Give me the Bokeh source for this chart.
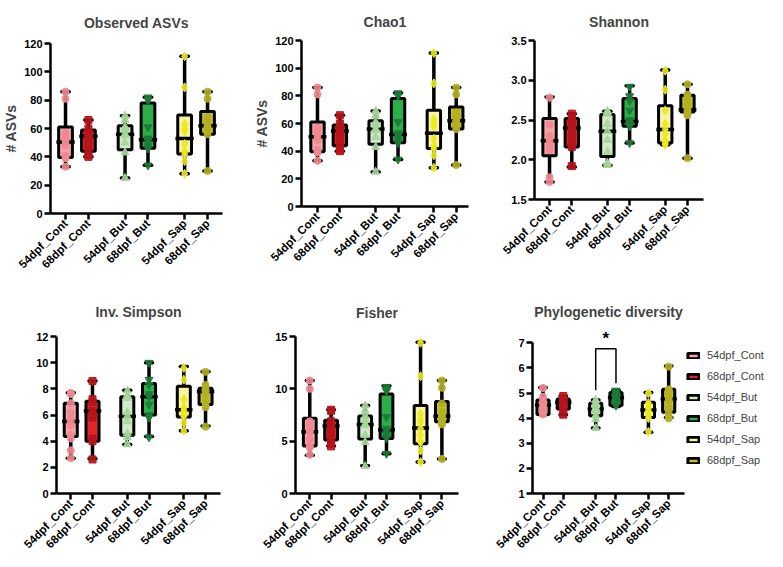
import math
from bokeh.plotting import figure
from bokeh.models import (FixedTicker, Legend, LegendItem, Label, Range1d,
                          PrintfTickFormatter, ColumnDataSource)
from bokeh.layouts import row, column
from bokeh.embed import file_html
from bokeh.resources import INLINE

# ---------------- data ----------------
GROUPS = ["54dpf_Cont", "68dpf_Cont", "54dpf_But", "68dpf_But", "54dpf_Sap", "68dpf_Sap"]

# box statistics per group: (min, q1, median, q3, max)
observed_box = [(33, 39.5, 50.5, 61, 86), (40, 44, 54.5, 59, 66), (25, 45, 56, 62, 69),
                (34, 46, 52, 78, 82), (28, 42, 53, 69.5, 111), (30, 56, 62, 72, 86)]
observed_pts = [[86, 81, 57, 55, 53, 51, 48, 41, 40, 39, 33],
                [66, 60, 57, 55, 54, 52, 49, 45, 41, 40],
                [69, 66, 61, 59, 56, 55, 50, 43, 25],
                [82, 80, 61, 53, 52, 51, 48, 46, 34],
                [111, 89, 63, 60, 58, 49, 44, 42, 37, 28],
                [86, 81, 68, 66, 64, 62, 61, 58, 56, 30]]

chao1_box = [(33, 39.5, 50.5, 61, 86), (40, 44, 54.5, 59, 66), (25, 45, 56, 62, 69),
             (34, 46, 52, 78, 82), (28, 42, 53, 69.5, 111), (30, 56, 62, 72, 86)]
chao1_pts = [[86, 81, 57, 55, 53, 51, 48, 41, 40, 39, 33],
             [66, 60, 57, 55, 54, 52, 49, 45, 41, 40],
             [69, 66, 61, 59, 56, 55, 50, 43, 25],
             [82, 80, 61, 53, 52, 51, 48, 46, 34],
             [111, 89, 63, 60, 58, 49, 44, 42, 37, 28],
             [86, 81, 68, 66, 64, 62, 61, 58, 56, 30]]

shannon_box = [(1.72, 2.05, 2.24, 2.52, 2.79), (1.91, 2.16, 2.40, 2.52, 2.58),
               (1.93, 2.04, 2.36, 2.57, 2.61), (2.21, 2.42, 2.48, 2.77, 2.93),
               (2.19, 2.21, 2.38, 2.68, 3.13), (2.02, 2.60, 2.63, 2.81, 2.95)]
shannon_pts = [[2.78, 2.44, 2.30, 2.27, 2.24, 2.18, 2.12, 1.78, 1.72],
               [2.58, 2.52, 2.50, 2.46, 2.40, 2.36, 2.30, 2.20, 2.16, 1.92],
               [2.61, 2.60, 2.58, 2.45, 2.36, 2.25, 2.10, 1.96, 1.93],
               [2.92, 2.80, 2.74, 2.62, 2.50, 2.48, 2.45, 2.42, 2.21],
               [3.12, 2.88, 2.62, 2.45, 2.38, 2.32, 2.25, 2.22, 2.20, 2.19],
               [2.95, 2.82, 2.78, 2.70, 2.65, 2.62, 2.60, 2.58, 2.56, 2.02]]

invsimpson_box = [(2.7, 4.35, 5.5, 6.9, 7.7), (2.65, 4.0, 6.3, 7.05, 8.6),
                  (3.75, 4.45, 5.9, 7.4, 7.9), (4.35, 6.0, 7.4, 8.4, 10.0),
                  (4.8, 5.85, 6.4, 8.2, 9.7), (5.15, 6.8, 7.8, 8.05, 9.3)]
invsimpson_pts = [[7.7, 7.6, 6.9, 6.2, 5.8, 5.5, 5.2, 4.5, 4.2, 3.3, 2.7],
                  [8.6, 7.2, 7.0, 6.3, 6.0, 5.8, 4.2, 4.0, 2.6],
                  [7.85, 7.5, 7.3, 6.2, 5.9, 5.5, 4.6, 4.3, 3.75],
                  [10.0, 8.7, 8.3, 7.6, 7.4, 6.8, 6.0, 5.8, 4.3],
                  [9.6, 8.7, 7.2, 6.6, 6.4, 6.2, 6.0, 5.9, 5.4, 4.8],
                  [9.3, 8.3, 8.1, 7.9, 7.8, 7.6, 7.0, 6.8, 6.6, 5.1]]

fisher_box = [(3.65, 4.55, 5.9, 7.2, 10.8), (4.55, 5.1, 6.45, 7.0, 8.0),
              (2.65, 5.2, 6.6, 7.4, 8.4), (3.8, 5.25, 6.1, 9.5, 10.3),
              (3.0, 4.75, 6.25, 8.4, 14.45), (3.3, 6.85, 7.4, 8.8, 10.8)]
fisher_pts = [[10.8, 10.0, 6.9, 6.5, 6.0, 5.9, 5.2, 4.6, 4.4, 3.7],
              [8.0, 7.9, 6.9, 6.5, 6.2, 5.8, 5.2, 4.8, 4.5],
              [8.4, 7.9, 7.4, 7.0, 6.6, 6.5, 5.6, 4.9, 2.6],
              [10.2, 9.9, 9.8, 7.3, 6.2, 6.0, 5.6, 5.3, 3.8],
              [14.4, 11.2, 7.6, 7.1, 6.8, 6.2, 5.6, 5.0, 4.9, 4.1, 3.0],
              [10.8, 10.1, 8.6, 7.8, 7.5, 7.3, 7.0, 6.8, 6.6, 3.3]]

phylo_box = [(4.14, 4.15, 4.52, 4.72, 5.22), (4.14, 4.36, 4.63, 4.76, 4.88),
             (3.61, 4.1, 4.36, 4.59, 4.72), (4.46, 4.5, 4.82, 5.02, 5.11),
             (3.44, 4.03, 4.32, 4.63, 5.02), (4.03, 4.23, 4.76, 5.15, 6.08)]
phylo_pts = [[5.2, 4.85, 4.7, 4.6, 4.5, 4.4, 4.3, 4.2, 4.15],
             [4.88, 4.8, 4.75, 4.7, 4.62, 4.55, 4.45, 4.35, 4.14],
             [4.72, 4.6, 4.5, 4.4, 4.35, 4.3, 4.1, 3.95, 3.6],
             [5.1, 5.0, 4.95, 4.9, 4.85, 4.8, 4.75, 4.6, 4.5],
             [5.0, 4.6, 4.5, 4.4, 4.3, 4.25, 4.1, 4.0, 3.45],
             [6.05, 5.15, 5.1, 4.95, 4.8, 4.7, 4.4, 4.2, 4.05, 4.0]]

# significance bracket (phylogenetic diversity): 54dpf_But vs 68dpf_But
sig_pair = (2, 3)
sig_left_y, sig_top_y, sig_right_y, sig_star_y = 5.11, 6.76, 5.39, 7.18

# ---------------- style ----------------
BOX_FILL = ["#F6A5AA", "#E1262B", "#D3EACB", "#2DAE4B", "#F9F3A2", "#C3C12E"]
POINT_COLOR = ["#F08890", "#B5151B", "#A6D79A", "#1C7A36", "#EAEA1C", "#B3B022"]
MARKERS = ["circle", "square", "triangle", "inverted_triangle", "diamond", "circle"]
MARKER_SIZE = [7, 7, 8, 8, 9, 7]
GROUP_X = [5, 10, 18, 23, 31, 36]
BOX_HALF = 1.5
CAP_HALF = 0.8
MED_HALF = 2.0
FONT = "Liberation Sans"


def make_panel(title, boxes, pts, yrange, yticks, fmt, xrange, geom, title_standoff,
               ylabel=None, ybounds=None):
    W, H, ml, mr, mt, mb = geom
    p = figure(width=W, height=H, output_backend="svg", toolbar_location=None,
               x_range=Range1d(*xrange), y_range=Range1d(*yrange),
               min_border_left=ml, min_border_right=mr, min_border_top=mt,
               min_border_bottom=mb, title=title)
    p.frame_align = False
    p.title.align = "center"
    p.title.text_font = FONT
    p.title.text_font_size = "14px"
    p.title.text_font_style = "bold"
    p.title.standoff = title_standoff
    p.outline_line_color = None
    p.xgrid.visible = False
    p.ygrid.visible = False
    p.background_fill_color = None
    p.border_fill_color = None

    src = ColumnDataSource(dict(
        x=GROUP_X,
        lo=[b[0] for b in boxes], q1=[b[1] for b in boxes], med=[b[2] for b in boxes],
        q3=[b[3] for b in boxes], hi=[b[4] for b in boxes],
        left=[x - BOX_HALF for x in GROUP_X], right=[x + BOX_HALF for x in GROUP_X],
        cl=[x - CAP_HALF for x in GROUP_X], cr=[x + CAP_HALF for x in GROUP_X],
        ml=[x - MED_HALF for x in GROUP_X], mr=[x + MED_HALF for x in GROUP_X],
        fill=BOX_FILL))
    p.segment(x0="x", y0="lo", x1="x", y1="hi", source=src, line_color="black",
              line_width=3.5)
    p.segment(x0="cl", y0="lo", x1="cr", y1="lo", source=src, line_color="black",
              line_width=3.5, line_cap="round")
    p.segment(x0="cl", y0="hi", x1="cr", y1="hi", source=src, line_color="black",
              line_width=3.5, line_cap="round")
    p.quad(left="left", right="right", bottom="q1", top="q3", source=src,
           fill_color="fill", line_color="black", line_width=3)
    p.segment(x0="ml", y0="med", x1="mr", y1="med", source=src, line_color="black",
              line_width=3.5)
    for i, vals in enumerate(pts):
        p.scatter(x=[GROUP_X[i]] * len(vals), y=vals, marker=MARKERS[i],
                  size=MARKER_SIZE[i], fill_color=POINT_COLOR[i],
                  line_color=POINT_COLOR[i], fill_alpha=0.9)

    for ax in (p.xaxis[0], p.yaxis[0]):
        ax.axis_line_width = 2.5
        ax.axis_line_color = "black"
        ax.major_tick_line_width = 2.5
        ax.major_tick_line_color = "black"
        ax.major_tick_out = 6
        ax.major_tick_in = 0
        ax.minor_tick_line_color = None
        ax.major_label_text_font = FONT
        ax.major_label_text_font_style = "bold"
        ax.major_label_text_color = "black"
    p.yaxis.ticker = FixedTicker(ticks=yticks)
    p.yaxis.formatter = PrintfTickFormatter(format=fmt)
    p.yaxis.major_label_text_font_size = "11px"
    p.yaxis.major_label_standoff = 2
    if ybounds:
        p.yaxis.bounds = ybounds
    p.xaxis.ticker = FixedTicker(ticks=GROUP_X)
    p.xaxis.major_label_overrides = {x: g for x, g in zip(GROUP_X, GROUPS)}
    p.xaxis.major_label_orientation = math.pi / 4
    p.xaxis.major_label_text_font_size = "11.5px"
    p.xaxis.major_label_standoff = 2
    if ylabel:
        p.yaxis.axis_label = ylabel
        p.yaxis.axis_label_text_font = FONT
        p.yaxis.axis_label_text_font_style = "bold"
        p.yaxis.axis_label_text_font_size = "14px"
        p.yaxis.axis_label_standoff = 2
    return p, src


p1, _ = make_panel("Observed ASVs", observed_box, observed_pts, (0, 120),
                   [0, 20, 40, 60, 80, 100, 120], "%d", (1.72, 39.27),
                   (247, 280, 50, 25, 42, 67), 25, ylabel="# ASVs")
p2, _ = make_panel("Chao1", chao1_box, chao1_pts, (0, 120),
                   [0, 20, 40, 60, 80, 100, 120], "%d", (1.43, 38.74),
                   (238, 280, 54, 17, 34, 74), 22, ylabel="# ASVs")
p3, _ = make_panel("Shannon", shannon_box, shannon_pts, (1.5, 3.5),
                   [1.5, 2.0, 2.5, 3.0, 3.5], "%.1f", (1.62, 39.6),
                   (282, 280, 49, 64, 33, 81), 22)
p4, _ = make_panel("Inv. Simpson", invsimpson_box, invsimpson_pts, (0, 12),
                   [0, 2, 4, 6, 8, 10, 12], "%d", (1.72, 39.44),
                   (247, 278, 56, 27, 56, 65), 33)
p5, _ = make_panel("Fisher", fisher_box, fisher_pts, (0, 15),
                   [0, 5, 10, 15], "%d", (1.65, 39.9),
                   (238, 278, 48, 27, 56, 65), 32)
p6, src6 = make_panel("Phylogenetic diversity", phylo_box, phylo_pts, (1, 7.45),
                      [1, 2, 3, 4, 5, 6, 7], "%d", (2.41, 39.9),
                      (201, 278, 47, 2, 51, 65), 24, ybounds=(1, 7))

# significance bracket and star
xa, xb = GROUP_X[sig_pair[0]], GROUP_X[sig_pair[1]]
p6.line(x=[xa, xa, xb, xb], y=[sig_left_y, sig_top_y, sig_top_y, sig_right_y],
        line_color="black", line_width=1.5)
p6.add_layout(Label(x=(xa + xb) / 2, y=sig_star_y, text="*", text_align="center",
                    text_baseline="middle", text_font=FONT, text_font_style="bold",
                    text_font_size="17px", text_color="black"))

# legend panel (same box glyph style as the plots)
lf = figure(width=81, height=278, output_backend="svg", toolbar_location=None,
            x_axis_type=None, y_axis_type=None, x_range=Range1d(0, 1),
            y_range=Range1d(0, 1), min_border_left=0, min_border_right=0,
            min_border_top=0, min_border_bottom=0)
lf.frame_align = False
lf.outline_line_color = None
lf.xgrid.visible = False
lf.ygrid.visible = False
lf.background_fill_color = None
lf.border_fill_color = None
leg_r = lf.quad(left="left", right="right", bottom="q1", top="q3", source=src6,
                fill_color="fill", line_color="black", line_width=3)
leg_r.visible = False
legend = Legend(items=[LegendItem(label=g, renderers=[leg_r], index=i)
                       for i, g in enumerate(GROUPS)],
                location=(0, 91), glyph_width=14, glyph_height=7,
                label_height=14, label_standoff=7, spacing=7, padding=2, margin=0,
                label_text_font=FONT, label_text_font_size="11px",
                border_line_color=None, background_fill_alpha=0,
                inactive_fill_alpha=0)
lf.add_layout(legend, "center")

layout = column(row(p1, p2, p3, spacing=0), row(p4, p5, p6, lf, spacing=0), spacing=0)
open("out.html", "w").write(file_html(layout, INLINE))
